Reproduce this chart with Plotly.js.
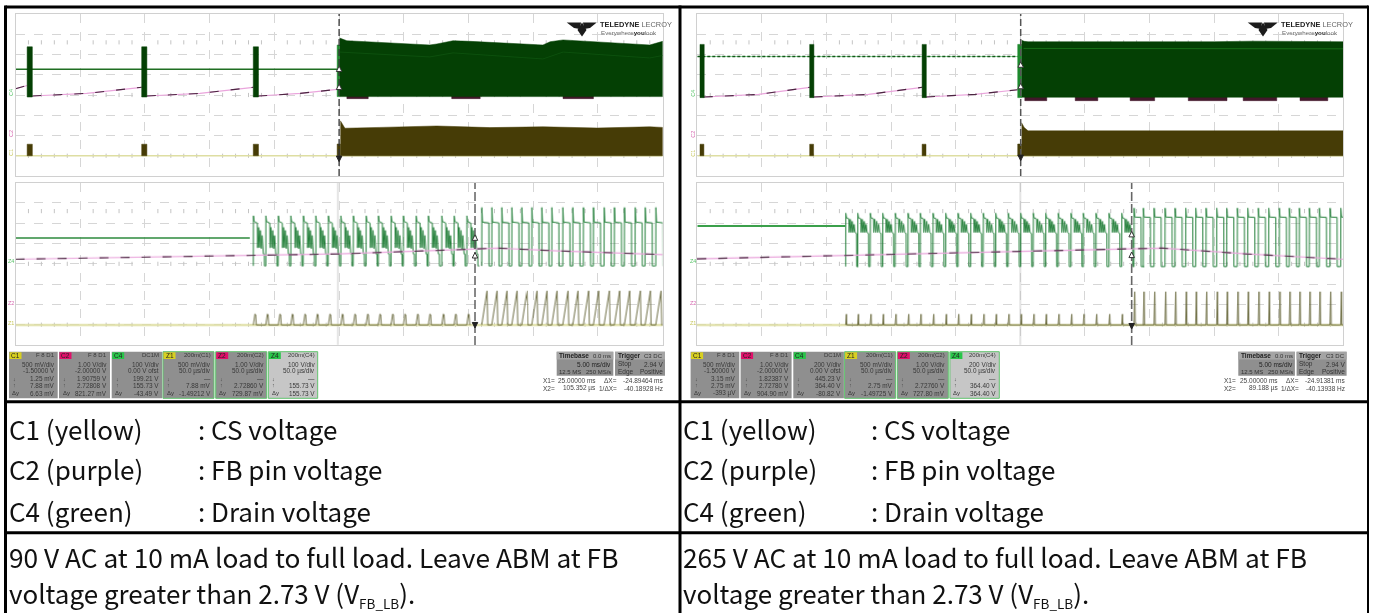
<!DOCTYPE html>
<html>
<head>
<meta charset="utf-8">
<script src="https://cdn.plot.ly/plotly-3.0.1.min.js"></script>
<style>html,body{margin:0;padding:0;background:#fff}#plot{width:1373px;height:613px}
.cartesianlayer{filter:blur(0.3px)}</style>
</head>
<body>
<div id="plot"></div>
<script>
// ---- All waveform values are in oscilloscope divisions (x 0..10, y 0..8) ----
// Top-left (90 V AC, zoom-out view)
const tlBurstStarts = [0.18, 1.95, 3.674];
const tlEnvX   = [5.01, 5.12, 6.40, 6.51, 6.76, 7.02, 8.15, 8.26, 8.46, 8.99, 9.80, 10];
const tlEnvTop = [6.81, 6.68, 6.47, 6.52, 6.68, 6.65, 6.47, 6.63, 6.72, 6.63, 6.47, 6.65];
const tlInnerX = [5.01, 6.40, 6.76, 8.15, 8.46, 9.80, 10];
const tlInnerY = [6.12, 5.88, 6.08, 5.78, 6.12, 5.83, 5.95];
const tlCsX    = [5.02, 5.09, 5.63, 6.51, 7.33, 8.15, 8.99, 9.80, 10];
const tlCsTop  = [2.73, 2.36, 2.40, 2.47, 2.39, 2.43, 2.37, 2.43, 2.40];
const tlFbX    = [0, 0.18, null, 0.26, 1.1, 1.95, null, 2.03, 2.85, 3.674, null, 3.75, 4.4, 4.97];
const tlFbY    = [4.31, 4.47, null, 3.95, 4.08, 4.38, null, 3.95, 4.08, 4.38, null, 3.95, 4.08, 4.28];
const tlLowPatchStart = [5.12, 6.74, 8.46];
const tlLowPatchEnd   = [5.45, 7.18, 8.93];

// Top-right (265 V AC, zoom-out view)
const trBurstStarts = [0.042, 1.74, 3.48];
const trEnvX   = [5.02, 5.06, 5.12, 6.5, 8.0, 8.6, 10];
const trEnvTop = [6.70, 6.65, 6.63, 6.62, 6.63, 6.66, 6.63];
const trInnerX = [5.05, 10];
const trInnerY = [6.30, 6.28];
const trCsX    = [5.02, 5.06, 5.12, 6.5, 8.0, 10];
const trCsTop  = [2.63, 2.40, 2.23, 2.24, 2.24, 2.23];
const trFbX    = [0.1, 0.95, 1.74, null, 1.8, 2.65, 3.48, null, 3.54, 4.3, 4.96];
const trFbY    = [3.90, 4.03, 4.38, null, 3.90, 4.03, 4.38, null, 3.90, 4.03, 4.26];
const trLowPatchStart = [5.07, 5.85, 6.70, 7.60, 8.45, 9.33];
const trLowPatchEnd   = [5.41, 6.20, 7.08, 8.20, 8.97, 9.76];

// Bottom-left (90 V AC, zoom-in view): pulse edge positions
const llBurstEdges = [3.674, 3.866, 4.06, 4.252, 4.447, 4.638, 4.833, 5.025, 5.219, 5.416, 5.606, 5.802, 5.992, 6.188, 6.378, 6.585, 6.775, 6.972];
const llFullEdges  = [7.203, 7.358, 7.512, 7.667, 7.821, 7.976, 8.13, 8.285, 8.455, 8.609, 8.773, 8.928, 9.093, 9.252, 9.407, 9.572, 9.727, 9.892];
const llFbX = [0, 3.62, 5.0, 7.07, 7.44, 8.37, 10];
const llFbY = [4.23, 4.40, 4.49, 4.73, 4.78, 4.64, 4.46];

// Bottom-right (265 V AC, zoom-in view)
const lrBurstEdges = [2.297, 2.483, 2.678, 2.87, 3.065, 3.262, 3.452, 3.649, 3.845, 4.036, 4.232, 4.427, 4.619, 4.814, 5.006, 5.201, 5.393, 5.588, 5.785, 5.975, 6.172, 6.373, 6.57];
const lrFullEdges  = [6.76, 6.904, 7.07, 7.24, 7.395, 7.56, 7.715, 7.875, 8.04, 8.195, 8.359, 8.52, 8.684, 8.845, 9.009, 9.164, 9.319, 9.474, 9.629, 9.794, 9.96];
const lrFbX = [0, 2.29, 5.0, 6.7, 7.2, 8.5, 10];
const lrFbY = [4.25, 4.41, 4.59, 4.74, 4.78, 4.49, 4.23];

// One-cycle waveform shapes
const llBurstDx = [0, 0.002, 0.012, 0.062, 0.066, 0.080, 0.094, 0.108, 0.122, 0.136, 0.150, 0.155, 0.17, 0.172, 0.193];
const llBurstDy = [3.90, 6.37, 6.09, 6.01, 4.79, 5.80, 4.80, 5.65, 4.75, 5.40, 4.60, 4.49, 4.49, 3.90, 3.90];
const lrBurstDx = [0, 0.002, 0.012, 0.05, 0.054, 0.07, 0.085, 0.10, 0.115, 0.13, 0.145, 0.168, 0.17, 0.193];
const lrBurstDy = [3.87, 6.50, 6.27, 6.22, 5.55, 6.20, 5.55, 6.10, 5.55, 5.95, 5.55, 5.50, 3.87, 3.87];
const llFullDx = [0, 0.002, 0.012, 0.11, 0.112, 0.155];
const llFullDy = [3.90, 6.78, 6.06, 6.02, 3.90, 3.90];
const lrFullDx = [0, 0.002, 0.012, 0.11, 0.112, 0.155];
const lrFullDy = [3.87, 6.75, 6.31, 6.29, 3.87, 3.87];
const llCsBurstDx = [0, 0.025, 0.036, 0.046];
const llCsBurstDy = [0.99, 1.53, 1.50, 0.99];
const llCsFullDx  = [0, 0.082, 0.093, 0.155];
const llCsFullDy  = [0.99, 2.67, 0.99, 0.99];
const lrCsBurstDx = [0, 0.012, 0.018, 0.193];
const lrCsBurstDy = [0.99, 1.52, 0.99, 0.99];
const lrCsFullDx  = [0, 0.012, 0.02, 0.155];
const lrCsFullDy  = [0.99, 2.63, 0.99, 0.99];

// Readouts
const chanTags = ['C1', 'C2', 'C4', 'Z1', 'Z2', 'Z4'];
const chanTagColors = ['#d8d020', '#e0106a', '#28c548', '#d8d020', '#e0106a', '#28c548'];
const readoutRowsLeft = [
  ['F 8 D1', '500 mV/div', '-1.50000 V', '1.25 mV', '7.88 mV', '6.63 mV'],
  ['F 8 D1', '1.00 V/div', '-2.00000 V', '1.90759 V', '2.72808 V', '821.27 mV'],
  ['DC1M', '100 V/div', '0.00 V ofst', '199.21 V', '155.73 V', '-43.49 V'],
  ['200m(C1)', '500 mV/div', '50.0 µs/div', '—', '7.88 mV', '-1.49212 V'],
  ['200m(C2)', '1.00 V/div', '50.0 µs/div', '—', '2.72860 V', '729.87 mV'],
  ['200m(C4)', '100 V/div', '50.0 µs/div', '—', '155.73 V', '155.73 V']
];
const readoutRowsRight = [
  ['F 8 D1', '500 mV/div', '-1.50000 V', '3.15 mV', '2.75 mV', '-393 µV'],
  ['F 8 D1', '1.00 V/div', '-2.00000 V', '1.82387 V', '2.72780 V', '904.90 mV'],
  ['DC1M', '200 V/div', '0.00 V ofst', '445.23 V', '364.40 V', '-80.82 V'],
  ['200m(C1)', '500 mV/div', '50.0 µs/div', '—', '2.75 mV', '-1.49725 V'],
  ['200m(C2)', '1.00 V/div', '50.0 µs/div', '—', '2.72760 V', '727.80 mV'],
  ['200m(C4)', '200 V/div', '50.0 µs/div', '—', '364.40 V', '364.40 V']
];
const cursorLeft  = ['25.00000 ms', '105.352 µs', '-24.89464 ms', '-40.18928 Hz'];
const cursorRight = ['25.00000 ms', '89.188 µs', '-24.91381 ms', '-40.13938 Hz'];
const captionRows = [['C1 (yellow)', ': CS voltage'], ['C2 (purple)', ': FB pin voltage'], ['C4 (green)', ': Drain voltage']];
const subFB = '<sub><span style="font-size:13.5px">FB_LB</span></sub>';
const noteLeft  = ['90 V AC at 10 mA load to full load. Leave ABM at FB', 'voltage greater than 2.73 V (V' + subFB + ').'];
const noteRight = ['265 V AC at 10 mA load to full load. Leave ABM at FB', 'voltage greater than 2.73 V (V' + subFB + ').'];

// ---- helpers ----
const W = 1373, H = 613;
const px = x => x / W, py = y => 1 - y / H;
const minorOffsets = [0.2, 0.4, 0.6, 0.8];
function train(edges, dx, dy) {
  const x = [], y = [];
  edges.forEach(e => dx.forEach((d, i) => { x.push(e + d); y.push(dy[i]); }));
  return {x, y};
}
function blocks(starts, ends, lo, hi) {
  const x = [], y = [];
  starts.forEach((s, i) => { x.push(s, ends[i], ends[i], s, s, null); y.push(lo, lo, hi, hi, lo, null); });
  return {x, y};
}
function envelope(ex, top, base) {
  return {x: [...ex, ...ex.slice().reverse()], y: [...top, ...ex.map(() => base)]};
}
const traces = [];
function add(n, t) {
  const s = n === 1 ? '' : String(n);
  traces.push(Object.assign({xaxis: 'x' + s, yaxis: 'y' + s, type: 'scatter', mode: 'lines', hoverinfo: 'skip', showlegend: false}, t));
}
function line(n, d, color, width, dash) { add(n, {x: d.x, y: d.y, line: {color, width, dash: dash || 'solid'}}); }
function fill(n, d, color) { add(n, {x: d.x, y: d.y, fill: 'toself', fillcolor: color, line: {color, width: 0.5}}); }
function fb(n, x, y) {
  line(n, {x, y}, '#eaa5dc', 1.2);
  line(n, {x, y}, '#4a2540', 1.1, '9px,12px');
}
function graticule(n) {
  const x = [], y = [];
  for (let d = 0; d < 10; d++) minorOffsets.forEach(o => { [1, 4, 6.6].forEach(r => { x.push(d + o); y.push(r); }); });
  add(n, {x, y, mode: 'markers', marker: {symbol: 'line-ns-open', size: 3, color: '#c4c4c4', line: {color: '#c4c4c4', width: 1}}});
}
function cursor(n, xpos, color, w, dash) { line(n, {x: [xpos, xpos], y: [0, 8]}, color, w, dash); }
function arrows(n, xpos, ys) {
  add(n, {x: [xpos, xpos], y: ys.slice(0, 2), mode: 'markers', cliponaxis: false, marker: {symbol: 'arrow-up', size: 5.5, color: '#fff', line: {color: '#333', width: 1}}});
  add(n, {x: [xpos], y: [ys[2]], mode: 'markers', cliponaxis: false, marker: {symbol: 'arrow-down', size: 5.5, color: '#222', line: {color: '#222', width: 1}}});
}
function mark(n, x, y, symbol, color, size) {
  add(n, {x: [x], y: [y], mode: 'markers', cliponaxis: false, marker: {symbol, size: size || 5, color}});
}

const DARKG = '#044004', OLIVE = '#463c06', LINEG = '#1f7d36', PALEY = '#dedea2', MAROON = '#43172b', CSLINE = '#5f5f30';

// --- panel 1: top-left
graticule(1);
fb(1, tlFbX, tlFbY);
line(1, {x: [0, 4.97], y: [5.27, 5.27]}, '#1f6e22', 1.5);
line(1, {x: [0, 10], y: [1, 1]}, PALEY, 1.5);
fill(1, blocks(tlBurstStarts, tlBurstStarts.map(s => s + 0.08), 3.9, 6.38), DARKG);
fill(1, blocks(tlLowPatchStart, tlLowPatchEnd, 3.82, 3.95), MAROON);
fill(1, blocks([4.97], [5.01], 3.92, 6.47), '#1d8a2d');
fill(1, envelope(tlEnvX, tlEnvTop, 3.92), DARKG);
line(1, {x: tlInnerX, y: tlInnerY}, '#125a14', 0.6);
fill(1, blocks(tlBurstStarts, tlBurstStarts.map(s => s + 0.08), 1, 1.57), OLIVE);
fill(1, blocks([4.97], [5.02], 1, 1.58), OLIVE);
fill(1, envelope(tlCsX, tlCsTop, 1), OLIVE);
cursor(1, 5.0, '#333', 1.3, '7px,3px');
arrows(1, 5.0, [5.43, 4.54, 0.71]);

// --- panel 2: top-right
graticule(2);
fb(2, trFbX, trFbY);
line(2, {x: [0, 4.96], y: [5.9, 5.9]}, '#8ed99a', 1);
line(2, {x: [0, 4.96], y: [5.9, 5.9]}, '#14561a', 1.5, '3px,2px');
line(2, {x: [0, 10], y: [1, 1]}, PALEY, 1.5);
fill(2, blocks(trBurstStarts, trBurstStarts.map(s => s + 0.065), 3.87, 6.5), DARKG);
fill(2, blocks(trLowPatchStart, trLowPatchEnd, 3.72, 3.9), MAROON);
fill(2, blocks([4.96], [5.02], 3.87, 6.5), '#1d8a2d');
fill(2, envelope(trEnvX, trEnvTop, 3.89), DARKG);
line(2, {x: trInnerX, y: trInnerY}, '#1c7a1c', 0.8);
fill(2, blocks(trBurstStarts, trBurstStarts.map(s => s + 0.06), 1, 1.57), OLIVE);
fill(2, blocks([4.96], [5.02], 1, 1.58), OLIVE);
fill(2, envelope(trCsX, trCsTop, 1), OLIVE);
cursor(2, 5.006, '#555', 1.5, '7px,3px');
arrows(2, 5.006, [5.64, 4.58, 0.76]);

// --- panel 3: bottom-left
graticule(3);
cursor(3, 4.98, '#bbbbbb', 0.8);
line(3, {x: [0, 3.62], y: [5.27, 5.27]}, '#2c8a3c', 1.5);
line(3, {x: [0, 10], y: [0.99, 0.99]}, PALEY, 2);
line(3, train(llBurstEdges, llBurstDx, llBurstDy), LINEG, 1);
line(3, train(llFullEdges, llFullDx, llFullDy), LINEG, 1);
fb(3, llFbX, llFbY);
line(3, train(llBurstEdges, llCsBurstDx, llCsBurstDy), CSLINE, 0.9);
line(3, train(llFullEdges, llCsFullDx, llCsFullDy), CSLINE, 0.9);
cursor(3, 7.1, '#555', 1.4, '9px,3px');
arrows(3, 7.1, [5.43, 4.56, 0.84]);

// --- panel 4: bottom-right
graticule(4);
cursor(4, 5.0, '#bbbbbb', 0.8);
line(4, {x: [0, 2.29], y: [5.87, 5.87]}, '#3ba04b', 2);
line(4, {x: [0, 10], y: [0.99, 0.99]}, PALEY, 2);
line(4, train(lrBurstEdges, lrBurstDx, lrBurstDy), LINEG, 1);
line(4, train(lrFullEdges, lrFullDx, lrFullDy), LINEG, 1);
fb(4, lrFbX, lrFbY);
line(4, train(lrBurstEdges, lrCsBurstDx, lrCsBurstDy), CSLINE, 0.9);
line(4, train(lrFullEdges, lrCsFullDx, lrCsFullDy), CSLINE, 0.9);
cursor(4, 6.724, '#666', 1.6, '9px,3px');
arrows(4, 6.724, [5.6, 4.58, 0.79]);

// small channel markers
mark(1, 4.98, -0.12, 'triangle-up', '#d4147a');
mark(2, 4.99, -0.12, 'triangle-up', '#d4147a');
mark(3, 4.98, -0.1, 'triangle-up', '#35c04e');
mark(4, 5.0, -0.1, 'triangle-up', '#35c04e');
mark(1, 10.05, 4.99, 'triangle-left', '#d4147a');
mark(2, 10.05, 4.99, 'triangle-left', '#d4147a');

// ---- layout ----
const axisBase = {range: [0, 10], dtick: 1, showgrid: true, griddash: 'dash', gridcolor: '#d6d6d6', gridwidth: 1,
  showticklabels: false, ticks: '', zeroline: false, showline: true, mirror: true, linecolor: '#d0d0d0', linewidth: 1, fixedrange: true};
const yBase = Object.assign({}, axisBase, {range: [0, 8]});
const leftDom = [px(15.5), px(662.7)], rightDom = [px(697.3), px(1343.3)];
const topDom = [py(176), py(14)], botDom = [py(345), py(182.7)];
const layout = {
  width: W, height: H, margin: {l: 0, r: 0, t: 0, b: 0, pad: 0}, paper_bgcolor: '#fff', plot_bgcolor: '#fff', showlegend: false, hovermode: false,
  xaxis:  Object.assign({}, axisBase, {domain: leftDom, anchor: 'y'}),   yaxis:  Object.assign({}, yBase, {domain: topDom, anchor: 'x'}),
  xaxis2: Object.assign({}, axisBase, {domain: rightDom, anchor: 'y2'}), yaxis2: Object.assign({}, yBase, {domain: topDom, anchor: 'x2'}),
  xaxis3: Object.assign({}, axisBase, {domain: leftDom, anchor: 'y3'}),  yaxis3: Object.assign({}, yBase, {domain: botDom, anchor: 'x3'}),
  xaxis4: Object.assign({}, axisBase, {domain: rightDom, anchor: 'y4'}), yaxis4: Object.assign({}, yBase, {domain: botDom, anchor: 'x4'}),
  shapes: [], annotations: []
};
function rect(x0, y0, x1, y1, fillcolor, lineColor, lw) {
  layout.shapes.push({type: 'rect', xref: 'paper', yref: 'paper', x0: px(x0), x1: px(x1), y0: py(y0), y1: py(y1),
    fillcolor: fillcolor || 'rgba(0,0,0,0)', line: {color: lineColor || 'rgba(0,0,0,0)', width: lw || 0}});
}
function hv(x0, y0, x1, y1, w) {
  layout.shapes.push({type: 'line', xref: 'paper', yref: 'paper', x0: px(x0), x1: px(x1), y0: py(y0), y1: py(y1), line: {color: '#000', width: w}});
}
function text(t, x, y, size, color, anchor, fam, extra) {
  layout.annotations.push(Object.assign({xref: 'paper', yref: 'paper', x: px(x), y: py(y), text: t, showarrow: false, xanchor: anchor || 'left', yanchor: 'middle',
    font: {family: fam || 'Liberation Sans', size, color}, borderpad: 0}, extra || {}));
}
function poly(pts, color) {
  layout.shapes.push({type: 'path', xref: 'paper', yref: 'paper', fillcolor: color, line: {width: 0},
    path: 'M' + pts.map(p => px(p[0]) + ',' + py(p[1])).join('L') + 'Z'});
}
// table rules
hv(5.5, 7, 1368, 7, 3);
hv(5.5, 401.7, 1368, 401.7, 3);
hv(5.5, 532.7, 1368, 532.7, 3);
hv(5.5, 5.5, 5.5, 613, 3);
hv(680, 5.5, 680, 613, 3);
hv(1368, 5.5, 1368, 613, 2);

const boxL = [9, 59, 111.7, 163, 215.7, 268.3], boxR = [57.7, 110, 162.3, 214, 266.7, 317.7];
const rowY = [354.5, 364.3, 370.6, 378.7, 385, 393.3];
function readouts(off, rows, cur) {
  rows.forEach((r, i) => {
    const l = boxL[i] + off, rr = boxR[i] + off, lite = i === 5;
    rect(l, 351.7, rr, 398.3, lite ? '#c6c6c6' : '#8f8f8f', i >= 3 ? '#62c46e' : null, i >= 3 ? 1 : 0);
    rect(l + 0.5, 352.3, l + 12.5, 359, chanTagColors[i]);
    text(chanTags[i], l + 6.5, 355.8, 6.5, '#222', 'center');
    r.forEach((v, k) => text(v, rr - 2, rowY[k], k === 0 ? 6 : 6.4, '#383838', 'right'));
    text('↓', l + 3, 378.7, 5.5, '#444');
    text('↑', l + 3, 385, 5.5, '#444');
    text('Δy', l + 2.5, 393.3, 6, '#333');
  });
  // timebase + trigger
  rect(off + 556.7, 351.7, off + 613.3, 375.7, '#8f8f8f');
  rect(off + 615, 351.7, off + 665, 375.7, '#8f8f8f');
  rect(off + 556.7, 351.7, off + 613.3, 359.5, '#a4a4a4');
  rect(off + 615, 351.7, off + 665, 359.5, '#a4a4a4');
  text('<b>Timebase</b>', off + 558, 355.7, 6.5, '#222');
  text('0.0 ms', off + 612, 355.7, 6, '#333', 'right');
  text('5.00 ms/div', off + 612, 364, 6.5, '#222', 'right');
  text('12.5 MS', off + 558, 371.6, 6, '#333');
  text('250 MS/s', off + 612, 371.6, 6, '#333', 'right');
  text('<b>Trigger</b>', off + 616.5, 355.7, 6.5, '#222');
  text('C3 DC', off + 664, 355.7, 6, '#333', 'right');
  text('Stop', off + 616.5, 364, 6.5, '#333');
  text('2.94 V', off + 664, 364, 6.5, '#333', 'right');
  text('Edge', off + 616.5, 371.6, 6.5, '#333');
  text('Positive', off + 664, 371.6, 6.5, '#333', 'right');
  text('X1=', off + 541.5, 380, 6.5, '#444');
  text('X2=', off + 541.5, 388, 6.5, '#444');
  text(cur[0], off + 597, 380, 6.5, '#444', 'right');
  text(cur[1], off + 597, 388, 6.5, '#444', 'right');
  text('ΔX=', off + 618, 380, 6.5, '#444', 'right');
  text('1/ΔX=', off + 618, 388, 6.5, '#444', 'right');
  text(cur[2], off + 664, 380, 6.5, '#444', 'right');
  text(cur[3], off + 664, 388, 6.5, '#444', 'right');
}
readouts(0, readoutRowsLeft, cursorLeft);
readouts(681.6, readoutRowsRight, cursorRight);

function logo(off) {
  poly([[off + 566.7, 22.5], [off + 581, 22.5], [off + 579.8, 29], [off + 574, 28]], '#1c1c1c');
  poly([[off + 596.7, 22.5], [off + 583, 22.5], [off + 584.2, 29], [off + 590, 28]], '#1c1c1c');
  poly([[off + 582, 22.5], [off + 586.5, 30], [off + 582, 36.5], [off + 577.5, 30]], '#1c1c1c');
  text('<b>TELEDYNE</b> <span style="color:#666">LECROY</span>', off + 599, 25, 7.4, '#222');
  text('<span style="color:#666">Everywhere</span><b>you</b><span style="color:#666">look</span>', off + 600, 32.3, 6.2, '#222');
}
logo(0); logo(681);

function chan(off) {
  const rot = {textangle: -90};
  text('C4', off + 11, 93, 5.5, '#5ac46a', 'center', null, rot);
  text('C2', off + 11, 134, 5.5, '#d66ab0', 'center', null, rot);
  text('C1', off + 11, 153, 5.5, '#c8c860', 'center', null, rot);
  text('Z4', off + 11, 261, 5.5, '#5ac46a', 'center');
  text('Z2', off + 11, 303, 5.5, '#d66ab0', 'center');
  text('Z1', off + 11, 323, 5.5, '#c8c860', 'center');
}
chan(0); chan(681.8);

// table text
const CJK = 'Noto Sans CJK SC';
const rowPx = [428.5, 468.5, 510.5];
const TS = 26;
captionRows.forEach((r, i) => {
  text(r[0], 8, rowPx[i], TS, '#111', 'left', CJK);
  text(r[1], 197, rowPx[i], TS, '#111', 'left', CJK);
  text(r[0], 682, rowPx[i], TS, '#111', 'left', CJK);
  text(r[1], 870, rowPx[i], TS, '#111', 'left', CJK);
});
noteLeft.forEach((t, i) => text(t, 8, [556, 593][i], i ? TS : 26.3, '#111', 'left', CJK));
noteRight.forEach((t, i) => text(t, 682, [556, 593][i], i ? TS : 26.3, '#111', 'left', CJK));

Plotly.newPlot('plot', traces, layout, {staticPlot: true, displayModeBar: false}).then(gd => {
  gd.querySelectorAll('.annotation').forEach(a => {
    const t = a.querySelector('text');
    if (t && parseFloat(t.style.fontSize) < 10) a.style.filter = 'blur(0.35px)';
  });
});
</script>
</body>
</html>
